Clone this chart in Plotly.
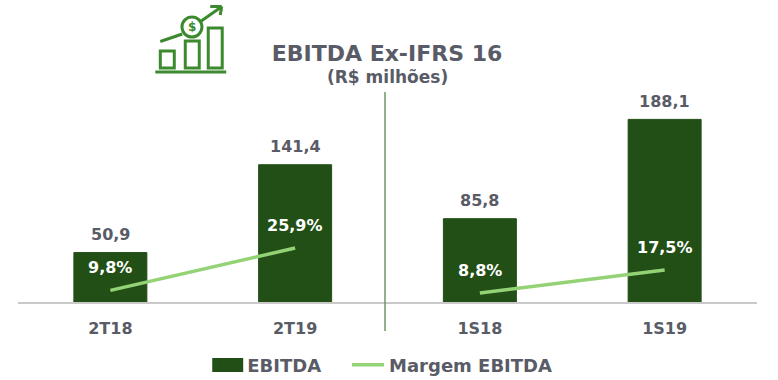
import plotly.graph_objects as go

categories = ["2T18", "2T19", "1S18", "1S19"]
ebitda = [50.9, 141.4, 85.8, 188.1]
ebitda_labels = ["50,9", "141,4", "85,8", "188,1"]
margin_t = [9.8, 25.9]
margin_s = [8.8, 17.5]
margin_t_labels = ["9,8%", "25,9%"]
margin_s_labels = ["8,8%", "17,5%"]

DARK = "#224f16"
LIGHT = "#93d376"
GREY = "#595b66"
ICON = "#3c8a2e"
FONT = "DejaVu Sans"

W, H = 778, 380
L, R, T, B = 17.5, 757.5, 102, 302  # plot area in window pixels
px = lambda x: (x - L) / (R - L)
py = lambda y: (B - y) / (B - T)

fig = go.Figure()
fig.add_bar(
    x=categories, y=ebitda, name="EBITDA", width=0.395, marker_color=DARK,
    marker_line=dict(color=DARK, width=1),
    cliponaxis=False, hoverinfo="x+y", legend="legend",
)
for cats, vals, show in ((categories[:2], margin_t, True), (categories[2:], margin_s, False)):
    fig.add_scatter(
        x=cats, y=vals, yaxis="y2", mode="lines", name="Margem EBITDA", legend="legend2",
        legendgroup="m", showlegend=show, line=dict(color=LIGHT, width=3.5),
    )

annotations = []
for c, v, t in zip(categories, ebitda, ebitda_labels):
    annotations.append(dict(
        x=c, y=v, xref="x", yref="y", text=t, showarrow=False, yshift=18,
        xanchor="center", yanchor="middle",
        font=dict(family=FONT, size=16, color=GREY, weight=700),
    ))
for cats, vals, labels in ((categories[:2], margin_t, margin_t_labels), (categories[2:], margin_s, margin_s_labels)):
    for c, v, t in zip(cats, vals, labels):
        annotations.append(dict(
            x=c, y=v, xref="x", yref="y2", text=t, showarrow=False, yshift=23,
            xanchor="center", yanchor="middle",
            font=dict(family=FONT, size=16, color="white", weight=700),
        ))
annotations.append(dict(
    x=px(387), y=py(77), xref="paper", yref="paper", text="(R$ milhões)", showarrow=False,
    xanchor="center", yanchor="middle",
    font=dict(family=FONT, size=17, color=GREY, weight=700),
))
annotations.append(dict(
    x=px(191.7), y=py(27), xref="paper", yref="paper", text="$", showarrow=False,
    xanchor="center", yanchor="middle",
    font=dict(family=FONT, size=12, color=ICON, weight=700),
))


def seg(x0, y0, x1, y1, color=ICON, width=3):
    return dict(type="line", xref="paper", yref="paper", x0=px(x0), y0=py(y0), x1=px(x1), y1=py(y1),
                line=dict(color=color, width=width))


def box(x0, y0, x1, y1):
    return dict(type="rect", xref="paper", yref="paper", x0=px(x0), y0=py(y0), x1=px(x1), y1=py(y1),
                line=dict(color=ICON, width=3))


shapes = [
    seg(385, 92, 385, 331, color="#6f9468", width=1.5),
    box(160, 51, 174, 68), box(185, 41, 199, 68), box(208, 28, 222, 68),
    seg(155, 72, 226, 72),
    seg(160, 41.5, 182, 34), seg(201, 21, 221, 7),
    seg(210, 6.5, 221.5, 6.5), seg(221.5, 6.5, 220, 15),
    dict(type="circle", xref="paper", yref="paper", x0=px(181.7), y0=py(37), x1=px(201.7), y1=py(17),
         line=dict(color=ICON, width=3)),
    # wide legend swatch for the bars
    dict(type="rect", xref="paper", yref="paper", x0=px(212), y0=py(358), x1=px(243), y1=py(372),
         fillcolor=DARK, line=dict(width=0)),
]

legend_font = dict(family=FONT, size=18, color=GREY, weight=700)
fig.update_layout(
    width=W, height=H, autosize=False,
    margin=dict(l=L, r=W - R, t=T, b=H - B, autoexpand=False),
    paper_bgcolor="white", plot_bgcolor="white",
    title=dict(text="EBITDA Ex-IFRS 16", x=387 / W, xanchor="center",
               y=1 - 53 / H, yanchor="middle",
               font=dict(family=FONT, size=22, color=GREY, weight=700)),
    xaxis=dict(type="category", categoryorder="array", categoryarray=categories, range=[-0.5, 3.5],
               showline=True, linecolor="#c9c9c9", linewidth=2, showgrid=False, automargin=False,
               ticks="outside", ticklen=11, tickcolor="rgba(0,0,0,0)",
               tickfont=dict(family=FONT, size=16, color=GREY, weight=700)),
    yaxis=dict(range=[0, 206], visible=False, showgrid=False),
    yaxis2=dict(range=[5.38, 81.4], overlaying="y", visible=False, showgrid=False),
    showlegend=True,
    legend=dict(orientation="h", x=px(205), xanchor="left", y=py(365), yanchor="middle",
                itemwidth=32, bgcolor="rgba(0,0,0,0)", font=legend_font),
    legend2=dict(orientation="h", x=px(347), xanchor="left", y=py(365), yanchor="middle",
                 itemwidth=32, bgcolor="rgba(0,0,0,0)", font=legend_font),
    shapes=shapes, annotations=annotations,
)
fig.write_html("out.html", post_script="document.body.style.margin='0';",
               config={"displayModeBar": False})
